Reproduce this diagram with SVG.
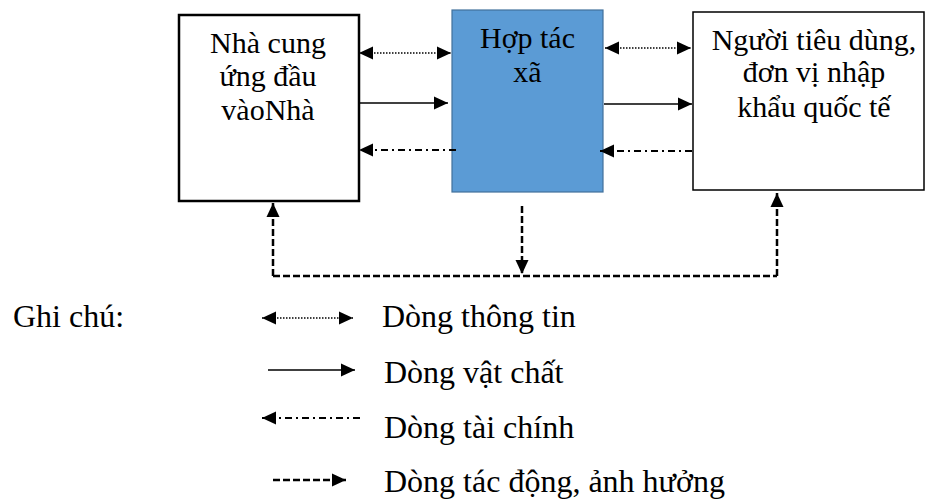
<svg xmlns="http://www.w3.org/2000/svg" width="926" height="502" viewBox="0 0 926 502">
  <defs>
    <marker id="ah" markerUnits="userSpaceOnUse" markerWidth="14" markerHeight="14" refX="14" refY="7" orient="auto-start-reverse" viewBox="0 0 14 14">
      <path d="M0,0.5 L14,7 L0,13.5 z" fill="#000"/>
    </marker>
    <style>
      .t{font-family:"Liberation Serif","Times New Roman","DejaVu Serif",serif;font-size:30px;fill:#000;text-anchor:middle}
      .lg{font-family:"Liberation Serif","Times New Roman","DejaVu Serif",serif;font-size:32px;fill:#000}
      .info{stroke:#000;stroke-width:1.5;stroke-dasharray:1.5 1.5;fill:none}
      .mat{stroke:#000;stroke-width:1.5;fill:none}
      .fin{stroke:#000;stroke-width:2;stroke-dasharray:7 4 2 4;fill:none}
      .inf{stroke:#000;stroke-width:2.5;stroke-dasharray:7 3;fill:none}
    </style>
  </defs>
  <rect width="926" height="502" fill="#fff"/>

  <g id="node-supplier">
    <rect x="179" y="15" width="180" height="186" fill="#fff" stroke="#000" stroke-width="2.5"/>
    <text class="t" x="268" y="53">Nhà cung</text>
    <text class="t" x="268" y="86">ứng đầu</text>
    <text class="t" x="268" y="120">vàoNhà</text>
  </g>

  <g id="node-coop">
    <rect x="452" y="10" width="151" height="182" fill="#5b9bd5" stroke="#41719c" stroke-width="1.2"/>
    <text class="t" x="527.5" y="48">Hợp tác</text>
    <text class="t" x="527.5" y="82">xã</text>
  </g>

  <g id="node-consumer">
    <rect x="693" y="12" width="231" height="178" fill="#fff" stroke="#000" stroke-width="1.5"/>
    <text class="t" x="814" y="50">Người tiêu dùng,</text>
    <text class="t" x="814" y="82">đơn vị nhập</text>
    <text class="t" x="814" y="117">khẩu quốc tế</text>
  </g>

  <g id="connectors">
    <line class="info" x1="359" y1="53" x2="451" y2="53" marker-start="url(#ah)" marker-end="url(#ah)"/>
    <line class="mat" x1="360" y1="103" x2="448" y2="103" marker-end="url(#ah)"/>
    <line class="fin" x1="456" y1="150" x2="359" y2="150" marker-end="url(#ah)"/>

    <line class="info" x1="605" y1="48" x2="691" y2="48" marker-start="url(#ah)" marker-end="url(#ah)"/>
    <line class="mat" x1="604" y1="104" x2="692" y2="104" marker-end="url(#ah)"/>
    <line class="fin" x1="692" y1="151" x2="600" y2="151" marker-end="url(#ah)"/>

    <polyline class="inf" points="273,276 777,276"/>
    <line class="inf" x1="273" y1="276" x2="273" y2="203" marker-end="url(#ah)"/>
    <line class="inf" x1="777" y1="276" x2="777" y2="193" marker-end="url(#ah)"/>
    <line class="inf" x1="522" y1="206" x2="522" y2="274" marker-end="url(#ah)"/>
  </g>

  <g id="legend">
    <text class="lg" x="13" y="327">Ghi chú:</text>
    <line class="info" x1="262" y1="318" x2="353" y2="318" marker-start="url(#ah)" marker-end="url(#ah)"/>
    <text class="lg" x="382" y="327">Dòng thông tin</text>
    <line class="mat" x1="268" y1="370" x2="355" y2="370" marker-end="url(#ah)"/>
    <text class="lg" x="384" y="383">Dòng vật chất</text>
    <line class="fin" x1="360" y1="418" x2="262" y2="418" marker-end="url(#ah)"/>
    <text class="lg" x="384" y="438">Dòng tài chính</text>
    <line class="inf" x1="273" y1="480" x2="346" y2="480" marker-end="url(#ah)"/>
    <text class="lg" x="384" y="492">Dòng tác động, ảnh hưởng</text>
  </g>
</svg>
